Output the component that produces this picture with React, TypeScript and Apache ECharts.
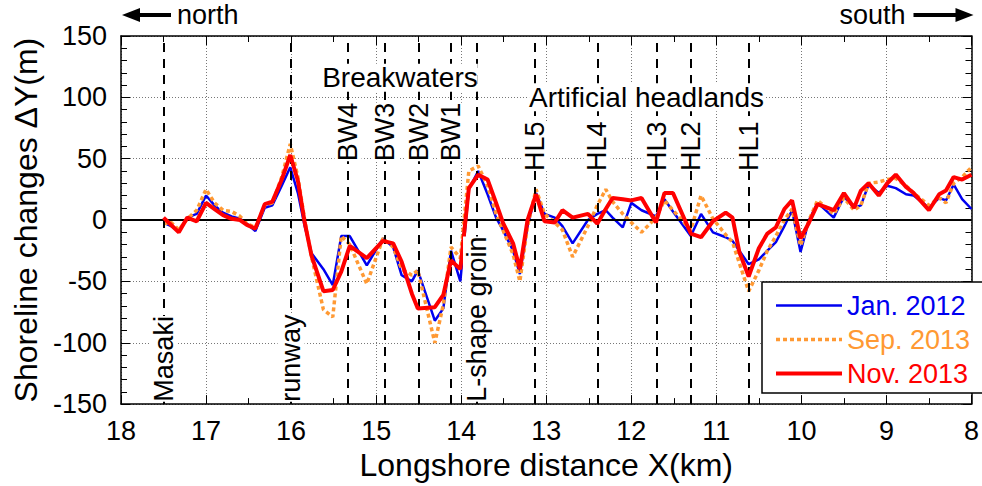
import React, { useEffect, useRef } from "react";
import * as echarts from "echarts";

// Longshore distance of each transect (km)
const xs = [
  17.5, 17.41, 17.32, 17.22, 17.11, 17.0, 16.9, 16.8, 16.7, 16.6,
  16.52, 16.42, 16.31, 16.22, 16.11, 16.01, 15.92, 15.84, 15.76, 15.62,
  15.51, 15.41, 15.31, 15.11, 14.92, 14.8, 14.7, 14.58, 14.51, 14.31,
  14.21, 14.12, 14.01, 13.91, 13.8, 13.69, 13.59, 13.51, 13.39, 13.31,
  13.22, 13.12, 13.02, 12.9, 12.81, 12.69, 12.51, 12.4, 12.3, 12.22,
  12.1, 12.0, 11.88, 11.71, 11.61, 11.51, 11.3, 11.18, 11.04, 10.89,
  10.81, 10.73, 10.62, 10.5, 10.4, 10.3, 10.2, 10.11, 10.01, 9.91,
  9.81, 9.62, 9.5, 9.38, 9.3, 9.21, 9.09, 8.99, 8.89, 8.77,
  8.68, 8.5, 8.38, 8.3, 8.21, 8.11, 8.0,
];

// Shoreline changes (m)
const jan2012 = [
  -2, -5, -9, 2, 5, 20, 12, 6, 3, 1,
  -3, -9, 10, 12, 28, 43, 22, -5, -27, -40,
  -53, -13, -13, -37, -15, -22, -45, -50, -41, -82,
  -72, -25, -50, 25, 40, 21, 2, -8, -25, -44,
  -5, 22, 5, 2, -5, -19, 0, 5, 8, 2,
  -6, 14, 8, 3, 17, 7, -13, 5, -10, -14,
  -17, -25, -36, -32, -25, -18, -5, 8, -26, 0,
  14, 2, 19, 10, 12, 29, 22, 28, 26, 21,
  20, 10, 18, 16, 29, 17, 9,
];
const sep2013 = [
  -3, -2, -8, 1, 8, 25, 14, 8, 7, 3,
  -3, -6, 12, 14, 35, 62, 35, 0, -30, -73,
  -79, -13, -20, -52, -15, -22, -40, -45, -41, -100,
  -69, -22, -31, 40, 44, 28, 5, -8, -28, -50,
  -5, 25, 5, -2, -8, -30, -5, 12, 25, 15,
  5, -2, -10, 2, 16, 8, -8, 20, 1, -12,
  -18, -35, -58, -41, -25, -13, 0, 9, -21, 0,
  16, 5, 18, 8, 12, 30, 31, 33, 34, 28,
  22, 12, 18, 14, 30, 35, 43,
];
const nov2013 = [
  2, -4, -10, 2, -1, 14, 9, 4, 1, 0,
  -4, -7, 13, 15, 33, 53, 32, -2, -29, -58,
  -57, -42, -21, -31, -17, -19, -34, -60, -72, -71,
  -61, -33, -40, 26, 37, 33, 14, -2, -19, -40,
  0, 21, -1, -2, 8, 2, 5, -3, 9, 18,
  17, 16, 18, -2, 22, 22, -11, -14, -1, 6,
  2, -26, -46, -23, -11, -6, 9, 16, -15, -2,
  13, 8, 22, 10, 24, 30, 20, 30, 37, 27,
  22, 8, 21, 24, 35, 33, 37,
];

const seriesNames = ["Jan. 2012", "Sep. 2013", "Nov. 2013"];
const seriesColors = ["#0000f0", "#ff9933", "#ff0000"];

// Coastal structures (km)
const structureNames = ["Masaki", "runway", "BW4", "BW3", "BW2", "BW1", "L-shape groin", "HL5", "HL4", "HL3", "HL2", "HL1"];
const structureX = [17.5, 16.0, 15.33, 14.9, 14.5, 14.12, 13.82, 13.13, 12.4, 11.7, 11.3, 10.62];

const FONT = "'Liberation Sans', Arial, Helvetica, sans-serif";

export default function App() {
  const ref = useRef<HTMLDivElement>(null);
  useEffect(() => {
    const chart = echarts.init(ref.current as HTMLDivElement, null, { renderer: "svg" });
    const pair = (ys: number[]) => xs.map((x, i) => [x, ys[i]]);
    const axisLine = { show: true, onZero: false, lineStyle: { color: "#000", width: 1.5 } };
    const tick = { show: true, inside: true, length: 9, lineStyle: { color: "#000", width: 1 } };
    const labelStyle = { fontSize: 27, color: "#000", fontFamily: FONT };
    const grid = { show: true, lineStyle: { color: "#777", type: [1, 2], width: 1 } };

    const option: any = {
      animation: false,
      backgroundColor: "#fff",
      grid: { left: 121, right: 9, top: 36, bottom: 80, containLabel: false },
      xAxis: [
        {
          type: "value", min: 8, max: 18, interval: 1, inverse: true, position: "bottom",
          axisLine, axisTick: tick,
          minorTick: { show: true, splitNumber: 2, length: 6, lineStyle: { color: "#000" } },
          axisLabel: { ...labelStyle, margin: 13 },
          splitLine: grid,
          name: "Longshore distance X(km)", nameLocation: "middle", nameGap: 44,
          nameTextStyle: { fontSize: 32, color: "#000", fontFamily: FONT },
        },
        {
          type: "value", min: 8, max: 18, interval: 1, inverse: true, position: "top",
          axisLine, axisTick: tick,
          minorTick: { show: true, splitNumber: 2, length: 6, lineStyle: { color: "#000" } },
          axisLabel: { show: false }, splitLine: { show: false },
        },
      ],
      yAxis: [
        {
          type: "value", min: -150, max: 150, interval: 50, position: "left",
          axisLine, axisTick: tick,
          minorTick: { show: true, splitNumber: 5, length: 6, lineStyle: { color: "#000" } },
          axisLabel: { ...labelStyle, margin: 14 },
          splitLine: grid,
          name: "Shoreline changes ΔY(m)", nameLocation: "middle", nameGap: 76, nameRotate: 90,
          nameTextStyle: { fontSize: 32, color: "#000", fontFamily: FONT },
        },
        {
          type: "value", min: -150, max: 150, interval: 50, position: "right",
          axisLine, axisTick: tick,
          minorTick: { show: true, splitNumber: 5, length: 6, lineStyle: { color: "#000" } },
          axisLabel: { show: false }, splitLine: { show: false },
        },
      ],
      legend: {
        orient: "vertical", left: 762, top: 282,
        backgroundColor: "#fff", borderColor: "#000", borderWidth: 1.5,
        padding: [10, 50, 6, 12], itemGap: 7, itemWidth: 66, itemHeight: 16,
        itemStyle: { opacity: 0 },
        lineStyle: { width: "inherit" },
        textStyle: { fontSize: 27, fontFamily: FONT },
        data: seriesNames.map((n, i) => ({ name: n, textStyle: { color: seriesColors[i] } })),
        z: 20,
      },
      series: [
        {
          name: seriesNames[0], type: "line", data: pair(jan2012), symbol: "none", z: 3,
          lineStyle: { color: seriesColors[0], width: 2.5 }, itemStyle: { color: seriesColors[0] },
          markLine: {
            silent: true, symbol: ["none", "none"], label: { show: false }, animation: false,
            lineStyle: { color: "#000", width: 2, type: [9, 7] },
            data: [
              ...structureX.map((x) => ({ xAxis: x })),
              { yAxis: 0, lineStyle: { color: "#000", width: 2, type: "solid" } },
            ],
          },
        },
        {
          name: seriesNames[1], type: "line", data: pair(sep2013), symbol: "none", z: 4,
          lineStyle: { color: seriesColors[1], width: 3.5, type: [4, 3] }, itemStyle: { color: seriesColors[1] },
        },
        {
          name: seriesNames[2], type: "line", data: pair(nov2013), symbol: "none", z: 5,
          lineStyle: { color: seriesColors[2], width: 4 }, itemStyle: { color: seriesColors[2] },
        },
      ],
    };
    chart.setOption(option);

    const toPx = (x: number, y: number) => chart.convertToPixel({ seriesIndex: 0 }, [x, y]) as number[];
    const textStyle = (text: string, extra: any = {}) => ({
      text, fill: "#000", fontSize: 27, fontFamily: FONT, backgroundColor: "#fff", ...extra,
    });
    const graphics: any[] = [];
    structureNames.forEach((name, i) => {
      const isBW = name.startsWith("BW");
      const isHL = name.startsWith("HL");
      const baseVal = isBW ? 48 : isHL ? 40 : -148;
      const p = toPx(structureX[i], baseVal);
      graphics.push({
        type: "text", x: p[0], y: p[1], rotation: Math.PI / 2, z: 50,
        style: textStyle(name, { align: "left", verticalAlign: "middle" }),
      });
    });
    const bw = toPx(14.72, 116);
    graphics.push({ type: "text", x: bw[0], y: bw[1], z: 50, style: textStyle("Breakwaters", { align: "center", verticalAlign: "middle", fontSize: 28 }) });
    const hl = toPx(11.82, 100);
    graphics.push({ type: "text", x: hl[0], y: hl[1], z: 50, style: textStyle("Artificial headlands", { align: "center", verticalAlign: "middle", fontSize: 28 }) });

    const tl = toPx(18, 150);
    const tr = toPx(8, 150);
    const ay = tl[1] - 21;
    graphics.push({ type: "polygon", z: 50, shape: { points: [[tl[0] + 1, ay], [tl[0] + 19, ay - 7], [tl[0] + 19, ay + 7]] }, style: { fill: "#000" } });
    graphics.push({ type: "line", z: 50, shape: { x1: tl[0] + 15, y1: ay, x2: tl[0] + 50, y2: ay }, style: { stroke: "#000", lineWidth: 4 } });
    graphics.push({ type: "text", x: tl[0] + 56, y: ay, z: 50, style: { text: "north", fill: "#000", fontSize: 27, fontFamily: FONT, align: "left", verticalAlign: "middle" } });
    graphics.push({ type: "polygon", z: 50, shape: { points: [[tr[0] + 2, ay], [tr[0] - 16, ay - 7], [tr[0] - 16, ay + 7]] }, style: { fill: "#000" } });
    graphics.push({ type: "line", z: 50, shape: { x1: tr[0] - 12, y1: ay, x2: tr[0] - 58, y2: ay }, style: { stroke: "#000", lineWidth: 4 } });
    graphics.push({ type: "text", x: tr[0] - 66, y: ay, z: 50, style: { text: "south", fill: "#000", fontSize: 27, fontFamily: FONT, align: "right", verticalAlign: "middle" } });

    chart.setOption({ graphic: graphics });
    return () => chart.dispose();
  }, []);
  return (
    <div
      ref={ref}
      style={{ position: "fixed", left: 0, top: 0, width: 982, height: 486, background: "#fff" }}
    />
  );
}
